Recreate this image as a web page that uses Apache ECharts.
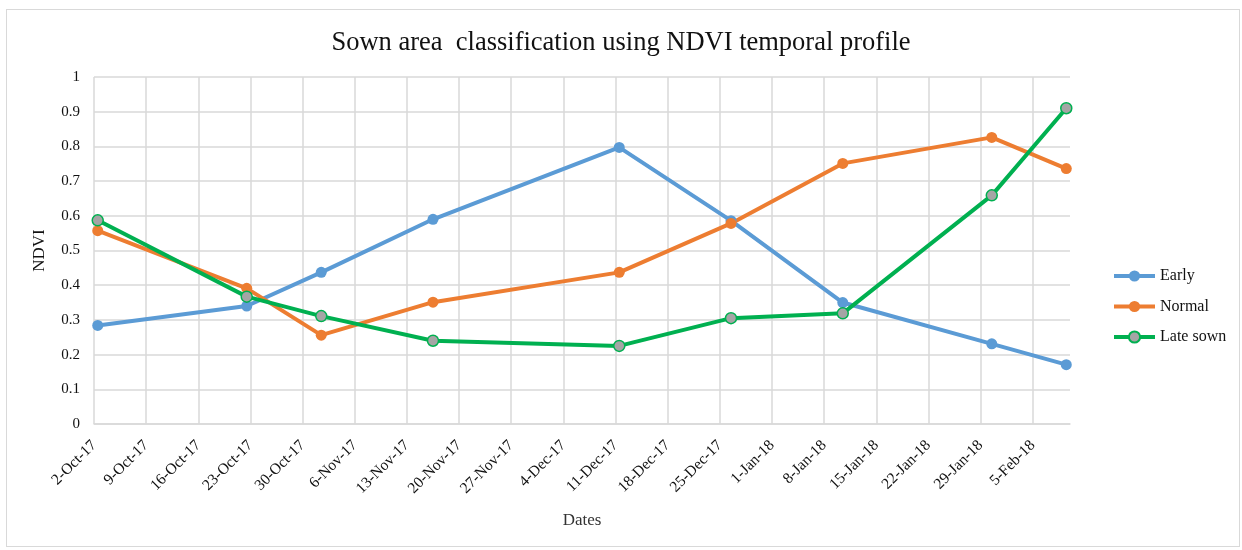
<!DOCTYPE html>
<html>
<head>
<meta charset="utf-8">
<title>Sown area classification</title>
<script src="https://cdn.jsdelivr.net/npm/echarts@6/dist/echarts.min.js"></script>
<style>
html, body { margin: 0; padding: 0; background: #fff; }
#frame { position: absolute; left: 6px; top: 9px; width: 1232px; height: 536px; border: 1px solid #d9d9d9; }
#chart { position: absolute; left: 0; top: 0; width: 1242px; height: 550px; }
</style>
</head>
<body>
<div id="frame"></div>
<div id="chart"></div>
<script>
// image dates of the NDVI profile
var dates = ["2017-10-02", "2017-10-22", "2017-11-01", "2017-11-16", "2017-12-11",
             "2017-12-26", "2018-01-10", "2018-01-30", "2018-02-09"];
var early    = [0.284, 0.340, 0.437, 0.590, 0.797, 0.586, 0.350, 0.231, 0.171];
var normal   = [0.557, 0.391, 0.256, 0.351, 0.437, 0.578, 0.751, 0.826, 0.736];
var lateSown = [0.587, 0.367, 0.311, 0.240, 0.225, 0.305, 0.319, 0.659, 0.910];

// weekly tick labels on the date axis
var weekLabels = ["2-Oct-17", "9-Oct-17", "16-Oct-17", "23-Oct-17", "30-Oct-17", "6-Nov-17",
                  "13-Nov-17", "20-Nov-17", "27-Nov-17", "4-Dec-17", "11-Dec-17", "18-Dec-17",
                  "25-Dec-17", "1-Jan-18", "8-Jan-18", "15-Jan-18", "22-Jan-18", "29-Jan-18", "5-Feb-18"];

var DAY = 86400000;
var start = Date.parse(dates[0]);
// days since first date, excel puts the point in the middle of its day
var dayPos = dates.map(function (d) { return (Date.parse(d) - start) / DAY + 0.5; });
var lastDay = (Date.parse(dates[dates.length - 1]) - start) / DAY + 1;

function pairs(vals) {
  return vals.map(function (v, i) { return [dayPos[i], v]; });
}

var serif = "'Liberation Serif', 'DejaVu Serif', serif";

var option = {
  animation: false,
  textStyle: { fontFamily: serif },
  title: {
    text: "Sown area  classification using NDVI temporal profile",
    left: "center",
    top: 25,
    textStyle: { fontFamily: serif, fontSize: 26.5, fontWeight: "normal", color: "#111" }
  },
  legend: {
    orient: "vertical",
    left: 1107,
    top: 263,
    itemWidth: 41,
    itemHeight: 14,
    itemGap: 14.5,
    lineStyle: { width: 4 },
    textStyle: { fontFamily: serif, fontSize: 16, color: "#111" },
    data: ["Early", "Normal", "Late sown"]
  },
  grid: { left: 94, right: 172, top: 77, bottom: 126 },
  xAxis: {
    type: "value",
    min: 0,
    max: lastDay,
    interval: 7,
    name: "Dates",
    nameLocation: "middle",
    nameGap: 88,
    nameTextStyle: { fontFamily: serif, fontSize: 17, color: "#333" },
    axisLine: { show: true, lineStyle: { color: "#d9d9d9", width: 1.5 } },
    axisTick: { show: false },
    axisLabel: {
      rotate: 45,
      margin: 19,
      showMaxLabel: false,
      fontFamily: serif,
      fontSize: 15.5,
      color: "#111",
      formatter: function (v) {
        return v % 7 === 0 ? (weekLabels[v / 7] || "") : "";
      }
    },
    splitLine: { show: true, showMaxLine: false, lineStyle: { color: "#d9d9d9", width: 1.5 } }
  },
  yAxis: {
    type: "value",
    min: 0,
    max: 1,
    interval: 0.1,
    name: "NDVI",
    nameLocation: "middle",
    nameGap: 46,
    nameTextStyle: { fontFamily: serif, fontSize: 17, color: "#111" },
    axisLine: { show: false },
    axisTick: { show: false },
    axisLabel: { margin: 14, fontFamily: serif, fontSize: 15, color: "#111" },
    splitLine: { lineStyle: { color: "#d9d9d9", width: 1.5 } }
  },
  series: [
    {
      name: "Early",
      type: "line",
      data: pairs(early),
      symbol: "circle",
      symbolSize: 11,
      lineStyle: { color: "#5b9bd5", width: 4 },
      itemStyle: { color: "#5b9bd5" }
    },
    {
      name: "Normal",
      type: "line",
      data: pairs(normal),
      symbol: "circle",
      symbolSize: 11,
      lineStyle: { color: "#ed7d31", width: 4 },
      itemStyle: { color: "#ed7d31" }
    },
    {
      name: "Late sown",
      type: "line",
      data: pairs(lateSown),
      symbol: "circle",
      symbolSize: 11,
      lineStyle: { color: "#00b050", width: 4 },
      itemStyle: { color: "#a5a5a5", borderColor: "#00b050", borderWidth: 1.5 }
    }
  ]
};

var myChart = echarts.init(document.getElementById("chart"));
myChart.setOption(option);
</script>
</body>
</html>
